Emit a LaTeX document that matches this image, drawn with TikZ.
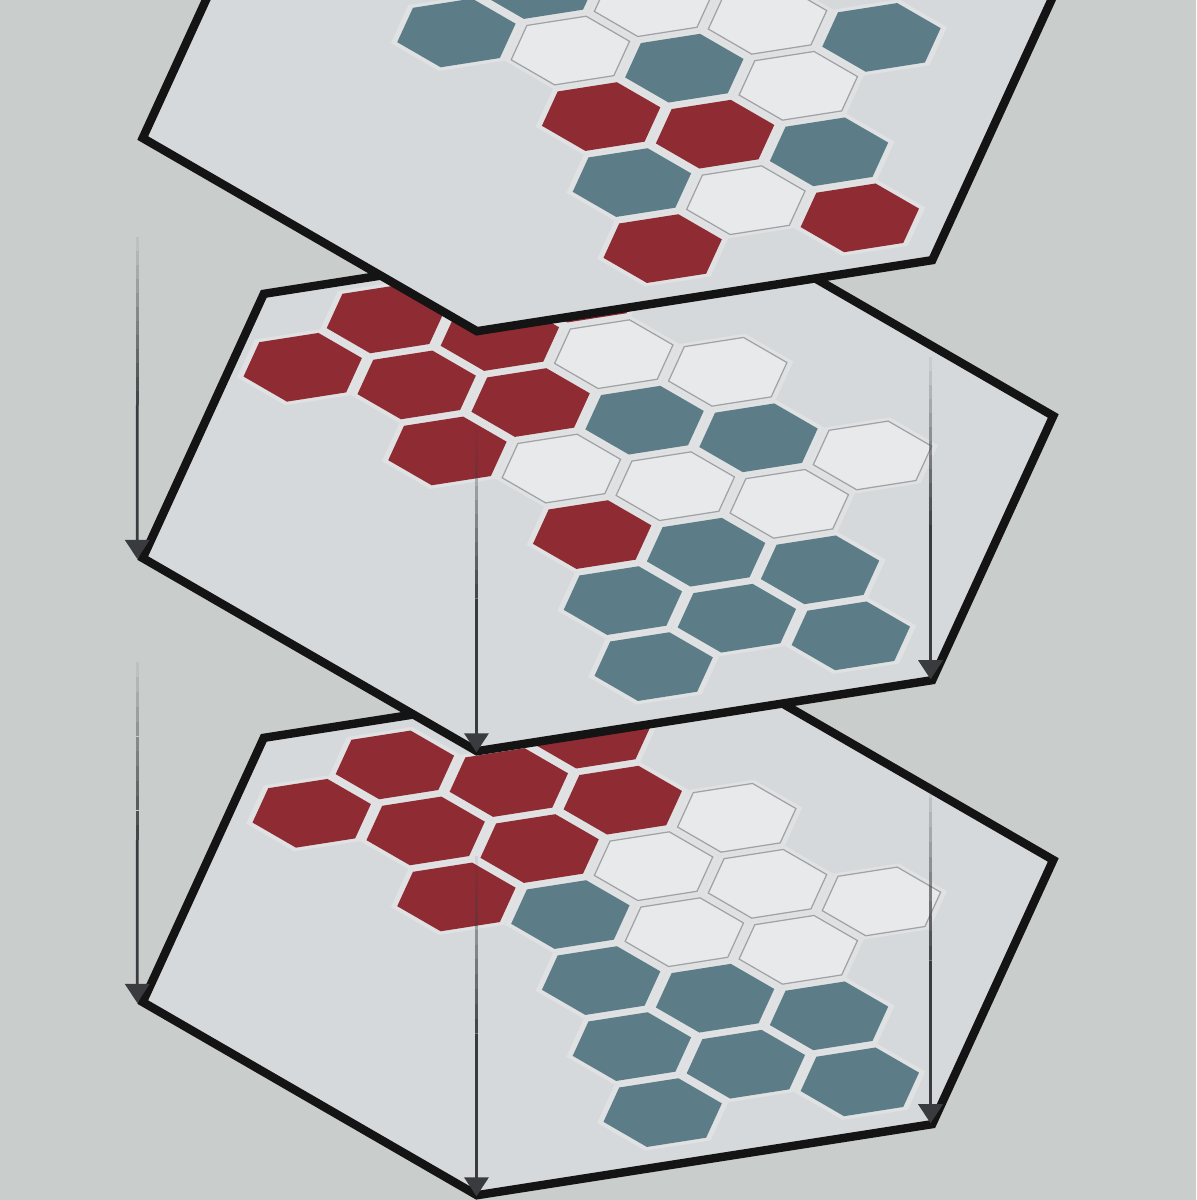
\documentclass[tikz,border=0pt]{standalone}
\usetikzlibrary{calc}

\definecolor{bgcol}{RGB}{201,205,204}
\definecolor{platecol}{RGB}{214,217,219}
\definecolor{gapcol}{RGB}{223,225,226}
\definecolor{redcol}{RGB}{143,43,51}
\definecolor{tealcol}{RGB}{92,125,135}
\definecolor{whitecol}{RGB}{232,233,235}
\definecolor{edgecol}{RGB}{160,162,165}
\definecolor{arrowcol}{RGB}{58,59,62}

\tikzset{
  plateline/.style={draw=black!92, line width=2.4pt},
  gap/.style={fill=gapcol},
  redtile/.style={fill=redcol},
  tealtile/.style={fill=tealcol},
  whitetile/.style={fill=whitecol, draw=edgecol, line width=0.35pt},
  shaft/.style={draw=arrowcol, line width=0.75pt},
  arrowtip/.style={fill=arrowcol}
}

\newcommand\hexpath[1]{(0:#1) -- (60:#1) -- (120:#1) -- (180:#1) -- (240:#1) -- (300:#1) -- cycle}

% #1 name, #2 centre y, #3/#4 first tile (plate frame), #5 tiles m/k/style
\newcommand\drawplate[5]{%
  \begin{scope}[shift={(598,#2)}, x={(4.55cm,0.71cm)}, y={(-1.23cm,2.639cm)}]
    \fill[platecol] \hexpath{1};
    \foreach \m/\k/\s in {#5}{
      \begin{scope}[shift={(#3+\m*0.2165,#4-\m*0.125-\k*0.25)}]
        \fill[gap] \hexpath{0.144};
        \path[\s] \hexpath{0.13};
      \end{scope}
    }
    \draw[plateline] \hexpath{1};
    \coordinate (#1-l) at (180:1.012);
    \coordinate (#1-b) at (240:1.004);
    \coordinate (#1-br) at (300:0.995);
  \end{scope}}

\begin{document}
\begin{tikzpicture}[x=0.01cm, y=-0.01cm]
  \useasboundingbox (0,0) rectangle (1196,1200);
  \fill[bgcol] (0,0) rectangle (1196,1200);
  \clip (0,0) rectangle (1196,1200);

  \drawplate{bot}{931}{-0.2574}{0.6983}{2/-1/redtile, 0/0/redtile, 1/0/redtile, 2/0/redtile, 3/0/whitetile,
    -1/1/redtile, 0/1/redtile, 1/1/redtile, 2/1/whitetile, 3/1/whitetile, 4/1/whitetile,
    0/2/redtile, 1/2/tealtile, 2/2/whitetile, 3/2/whitetile,
    1/3/tealtile, 2/3/tealtile, 3/3/tealtile,
    1/4/tealtile, 2/4/tealtile, 3/4/tealtile, 1/5/tealtile}

  \drawplate{mid}{487}{-0.2739}{0.7103}{2/-1/redtile, 0/0/redtile, 1/0/redtile, 2/0/whitetile, 3/0/whitetile,
    -1/1/redtile, 0/1/redtile, 1/1/redtile, 2/1/tealtile, 3/1/tealtile, 4/1/whitetile,
    0/2/redtile, 1/2/whitetile, 2/2/whitetile, 3/2/whitetile,
    1/3/redtile, 2/3/tealtile, 3/3/tealtile,
    1/4/tealtile, 2/4/tealtile, 3/4/tealtile, 1/5/tealtile}

  \drawplate{top}{67}{-0.2574}{0.6983}{1/1/tealtile, 2/1/whitetile, 3/1/whitetile, 4/1/tealtile,
    0/2/tealtile, 1/2/whitetile, 2/2/tealtile, 3/2/whitetile,
    1/3/redtile, 2/3/redtile, 3/3/tealtile,
    1/4/tealtile, 2/4/whitetile, 3/4/redtile, 1/5/redtile}

  % arrows from corner to corner, fading in from the top
  \foreach \a/\b in {top/mid, mid/bot}
    \foreach \v in {l,b,br}{
      \foreach \i in {7,...,18}{
        \pgfmathsetmacro\op{(\i-6)/13}
        \draw[shaft, draw opacity=\op] ($(\a-\v)!\i/30!(\b-\v)$) -- ($(\a-\v)!\i/30+1/30!(\b-\v)$);
      }
      \draw[shaft] ($(\a-\v)!19/30!(\b-\v)$) -- ($(\b-\v)+(0,-12)$);
      \fill[arrowtip] (\b-\v) -- ++(-12.5,-19) -- ++(25,0) -- cycle;
    }
\end{tikzpicture}
\end{document}
